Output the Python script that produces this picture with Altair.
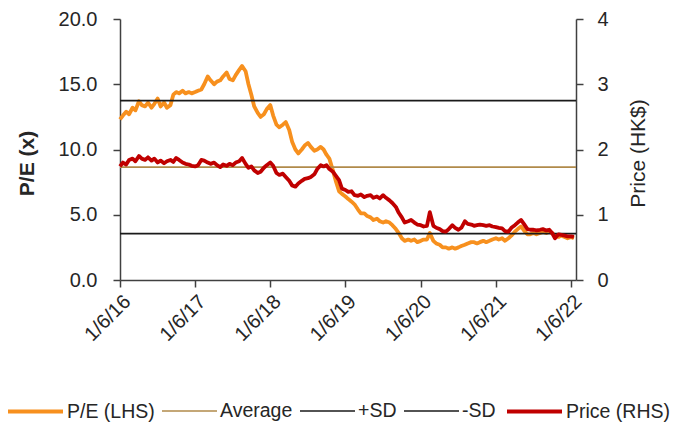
import altair as alt
import pandas as pd

# ---- data -------------------------------------------------------------
dates = pd.date_range("2016-06-01", "2022-06-15", freq="SMS").strftime("%Y/%m/%d").tolist()

pe = [
    # 2016 Jun-Dec
    12.3, 12.6, 12.9, 12.7, 13.2, 13.0, 13.7, 13.4, 13.3, 13.6, 13.2, 13.5, 13.9, 13.3,
    # 2017
    13.6, 13.2, 13.4, 14.2, 14.4, 14.3, 14.5, 14.3, 14.4, 14.3, 14.4, 14.5,
    14.6, 15.0, 15.6, 15.3, 15.0, 15.2, 15.3, 15.6, 15.9, 15.4, 15.3, 15.7,
    # 2018
    16.1, 16.4, 16.0, 15.0, 14.2, 13.3, 12.8, 12.5, 12.7, 13.1, 13.4, 12.6,
    11.9, 11.7, 11.9, 12.1, 11.5, 10.6, 10.0, 9.7, 10.0, 10.3, 10.5, 10.2,
    # 2019
    9.9, 10.0, 10.2, 10.0, 9.6, 9.3, 8.4, 7.6, 6.8, 6.6, 6.4, 6.2,
    6.0, 5.8, 5.4, 5.1, 5.1, 4.9, 4.8, 4.6, 4.7, 4.5, 4.4, 4.5,
    # 2020
    4.4, 4.2, 3.9, 3.6, 3.2, 3.0, 3.1, 3.0, 3.1, 2.9, 3.0, 3.1,
    3.1, 3.6, 3.0, 2.8, 2.7, 2.5, 2.5, 2.4, 2.5, 2.4, 2.5, 2.6,
    # 2021
    2.7, 2.8, 2.9, 2.9, 2.8, 2.9, 3.0, 2.9, 3.0, 3.1, 3.2, 3.1,
    3.2, 3.0, 3.2, 3.4, 3.7, 3.9, 4.1, 3.8, 3.5, 3.5, 3.6, 3.5,
    # 2022 Jan-Jun
    3.6, 3.7, 3.6, 3.7, 3.6, 3.4, 3.3, 3.4, 3.3, 3.2, 3.3, 3.2,
]

price = [
    # 2016 Jun-Dec
    1.74, 1.80, 1.77, 1.84, 1.86, 1.82, 1.90, 1.86, 1.84, 1.88, 1.83, 1.86, 1.80, 1.83,
    # 2017
    1.79, 1.82, 1.84, 1.81, 1.87, 1.84, 1.80, 1.78, 1.77, 1.75, 1.74, 1.76,
    1.84, 1.83, 1.80, 1.78, 1.80, 1.76, 1.73, 1.77, 1.75, 1.78, 1.76, 1.80,
    # 2018
    1.82, 1.87, 1.78, 1.72, 1.74, 1.68, 1.64, 1.66, 1.72, 1.76, 1.80, 1.75,
    1.64, 1.61, 1.63, 1.58, 1.52, 1.45, 1.43, 1.48, 1.52, 1.55, 1.56, 1.58,
    # 2019
    1.62, 1.70, 1.76, 1.74, 1.76, 1.70, 1.66, 1.60, 1.53, 1.40, 1.38, 1.35,
    1.36, 1.30, 1.29, 1.31, 1.27, 1.29, 1.30, 1.26, 1.28, 1.25, 1.30, 1.26,
    # 2020
    1.22, 1.18, 1.12, 1.03, 0.96, 0.88, 0.90, 0.92, 0.88, 0.85, 0.84, 0.82,
    0.83, 1.04, 0.83, 0.80, 0.78, 0.75, 0.74, 0.78, 0.84, 0.80, 0.77, 0.80,
    # 2021
    0.90, 0.86, 0.85, 0.83, 0.84, 0.85, 0.84, 0.83, 0.84, 0.82, 0.81, 0.80,
    0.79, 0.75, 0.74, 0.80, 0.84, 0.88, 0.92, 0.86, 0.78, 0.77, 0.77, 0.76,
    # 2022 Jan-Jun
    0.77, 0.78, 0.76, 0.77, 0.72, 0.64, 0.70, 0.69, 0.68, 0.67, 0.67, 0.66,
]

series = ["P/E (LHS)", "Average", "+SD", "-SD", "Price (RHS)"]
band_names = ["Average", "+SD", "-SD"]
band_values = [8.65, 13.75, 3.55]

x_ticks = [2016, 2017, 2018, 2019, 2020, 2021, 2022]
pe_ticks = [0, 5, 10, 15, 20]
price_ticks = [0, 1, 2, 3, 4]

colors = ["#F7901E", "#B08A4A", "#1A1A1A", "#1A1A1A", "#C00000"]
widths = [3.8, 1.7, 1.7, 1.7, 3.8]

# ---- tables -----------------------------------------------------------
pe_df = pd.DataFrame({"date": dates, "value": pe, "series": series[0]})
price_df = pd.DataFrame({"date": dates, "value": price, "series": series[4]})
band_df = pd.DataFrame({"series": band_names, "value": band_values})

FONT = "Liberation Sans"
TXT = "#262626"
AX = "#404040"

color = alt.Color(
    "series:N",
    scale=alt.Scale(domain=series, range=colors),
    legend=alt.Legend(
        orient="none", legendX=-114, legendY=363, direction="horizontal",
        title=None, symbolType="stroke", symbolSize=3025,
        labelFont=FONT, labelFontSize=19.5, labelColor=TXT,
        labelOffset=2, columnPadding=3,
    ),
)
sw = alt.StrokeWidth(
    "series:N", scale=alt.Scale(type="ordinal", domain=series, range=widths)
)

x = alt.X(
    "date:T",
    scale=alt.Scale(domain=[alt.DateTime(year=2016, month=6, date=1),
                            alt.DateTime(year=2022, month=6, date=25)]),
    axis=alt.Axis(
        values=[alt.DateTime(year=y, month=6, date=1) for y in x_ticks],
        format="%-d/%-m/%y", labelAngle=315, title=None, grid=False,
        tickSize=7, labelPadding=4,
    ),
)

y_left = alt.Y(
    "value:Q",
    scale=alt.Scale(domain=[0, 20], nice=False),
    axis=alt.Axis(
        values=pe_ticks, format=".1f", title="P/E (x)", grid=False,
        tickSize=7, labelPadding=16,
        titleFontWeight="bold", titleFontSize=21, titleAngle=270,
        titleX=-93, titleY=144, titleAlign="center", titleBaseline="middle",
    ),
)

y_right = alt.Y(
    "value:Q",
    scale=alt.Scale(domain=[0, 4], nice=False),
    axis=alt.Axis(
        orient="right", values=price_ticks, format="d", title="Price (HK$)",
        grid=False, tickSize=7, labelPadding=14,
        titleFontWeight="normal", titleFontSize=21, titleAngle=270,
        titleX=62, titleY=134, titleAlign="center", titleBaseline="middle",
    ),
)

pe_line = alt.Chart(pe_df).mark_line(strokeJoin="round").encode(
    x=x, y=y_left, color=color, strokeWidth=sw
)
bands = alt.Chart(band_df).mark_rule().encode(
    y=y_left, color=color, strokeWidth=sw
)
price_line = alt.Chart(price_df).mark_line(strokeJoin="round").encode(
    x=x, y=y_right, color=color, strokeWidth=sw
)

left = alt.layer(pe_line, bands)
chart = (
    alt.layer(left, price_line)
    .resolve_scale(y="independent")
    .properties(
        width=456, height=261,
        autosize=alt.AutoSizeParams(type="none"),
        padding={"left": 112, "top": 11, "right": 100, "bottom": 142},
    )
    .configure_view(stroke=None)
    .configure_axis(
        labelFont=FONT, labelFontSize=20, labelColor=TXT,
        titleFont=FONT, titleColor=TXT,
        domainColor=AX, domainWidth=1.5, tickColor=AX, tickWidth=1.5,
    )
)

chart.save("out.html", embed_options={"renderer": "svg", "actions": False})
